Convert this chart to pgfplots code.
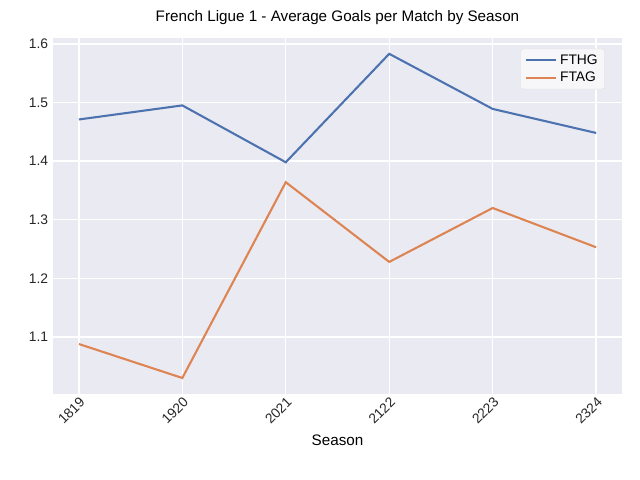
\documentclass[border=0pt]{standalone}
\usepackage{pgfplots}
\pgfplotsset{compat=1.18}
\usepackage{fontspec}
\setmainfont{Liberation Sans}
\definecolor{bg}{HTML}{EAEAF2}
\definecolor{c1}{HTML}{4C72B0}
\definecolor{c2}{HTML}{DD8452}
\begin{document}
\begin{tikzpicture}
\begin{axis}[
  scale only axis, width=5.69in, height=3.56in,
  xmin=-0.25, xmax=5.25, ymin=1.0027, ymax=1.61,
  axis background/.style={fill=bg},
  axis line style={draw=none},
  grid=major, major grid style={white, line width=1pt},
  tick style={draw=none},
  xtick={0,1,2,3,4,5},
  xticklabels={1819,1920,2021,2122,2223,2324},
  x tick label style={rotate=45, anchor=north east, inner sep=1pt},
  ytick={1.1,1.2,1.3,1.4,1.5,1.6},
  yticklabel style={/pgf/number format/.cd, fixed, precision=1, fixed zerofill},
  /pgf/number format/assume math mode=true,
  ticklabel style={font=\fontsize{10}{12}\selectfont, text=black!85},
  xlabel={Season}, xlabel style={font=\fontsize{11}{13}\selectfont, yshift=-2pt},
  title={French Ligue 1 - Average Goals per Match by Season},
  title style={font=\fontsize{11}{13}\selectfont},
  legend pos=north east,
  legend style={font=\fontsize{10}{13}\selectfont, fill=bg!40, draw=white!80!gray, rounded corners=2pt},
  legend image post style={xscale=1.3},
  legend cell align=left,
]
\addplot[c1, line width=1.5pt] coordinates {(0,1.471)(1,1.495)(2,1.398)(3,1.583)(4,1.489)(5,1.448)};
\addlegendentry{FTHG}
\addplot[c2, line width=1.5pt] coordinates {(0,1.088)(1,1.030)(2,1.364)(3,1.228)(4,1.320)(5,1.253)};
\addlegendentry{FTAG}
\end{axis}
\path (current axis.south west) +(-0.53in,-0.86in);
\path (current axis.north east) +(0.18in,0.38in);
\end{tikzpicture}
\end{document}
